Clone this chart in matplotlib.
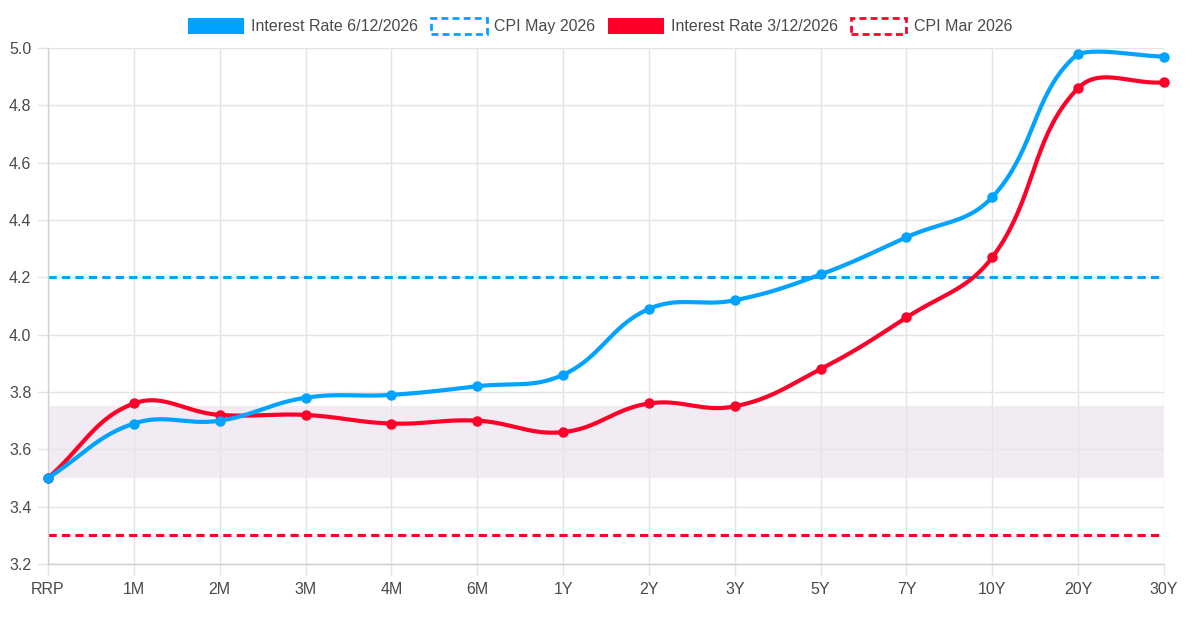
import numpy as np
import matplotlib
matplotlib.use("Agg")
import matplotlib.pyplot as plt
from matplotlib.patches import Patch

labels = ["RRP", "1M", "2M", "3M", "4M", "6M", "1Y", "2Y", "3Y", "5Y", "7Y", "10Y", "20Y", "30Y"]
rate_jun = [3.50, 3.69, 3.70, 3.78, 3.79, 3.82, 3.86, 4.09, 4.12, 4.21, 4.34, 4.48, 4.98, 4.97]
rate_mar = [3.50, 3.76, 3.72, 3.72, 3.69, 3.70, 3.66, 3.76, 3.75, 3.88, 4.06, 4.27, 4.86, 4.88]
cpi_may = 4.20
cpi_mar = 3.30
band_low, band_high = 3.50, 3.75
y_min, y_max = 3.2, 5.0
y_ticks = [3.2, 3.4, 3.6, 3.8, 4.0, 4.2, 4.4, 4.6, 4.8, 5.0]

BLUE = "#00a3ff"
RED = "#ff0029"
TEXT = "#4a4a4a"
GRID = "#e4e4e4"

plt.rcParams["font.family"] = ["Liberation Sans", "DejaVu Sans"]

W, H = 1200, 617
fig = plt.figure(figsize=(W / 100, H / 100), dpi=100)
ax = fig.add_axes([48 / W, 53 / H, (1164 - 48) / W, (564 - 48) / H])


def spline(xs, ys, sx, sy, lo, hi, tension=0.4, n=40):
    # Chart.js style bezier spline computed in pixel-like space, control points capped to area
    px = np.asarray(xs, float) * sx
    py = np.asarray(ys, float) * sy
    xmin, xmax = px.min(), px.max()
    ymin, ymax = lo * sy, hi * sy
    m = len(px)
    cps = []
    for i in range(m):
        prev = (px[max(i - 1, 0)], py[max(i - 1, 0)])
        cur = (px[i], py[i])
        nxt = (px[min(i + 1, m - 1)], py[min(i + 1, m - 1)])
        d01 = np.hypot(cur[0] - prev[0], cur[1] - prev[1])
        d12 = np.hypot(nxt[0] - cur[0], nxt[1] - cur[1])
        tot = d01 + d12
        s01 = d01 / tot if tot else 0
        s12 = d12 / tot if tot else 0
        fa = tension * s01
        fb = tension * s12
        cp_prev = [cur[0] - fa * (nxt[0] - prev[0]), cur[1] - fa * (nxt[1] - prev[1])]
        cp_next = [cur[0] + fb * (nxt[0] - prev[0]), cur[1] + fb * (nxt[1] - prev[1])]
        for cp in (cp_prev, cp_next):
            cp[0] = min(max(cp[0], xmin), xmax)
            cp[1] = min(max(cp[1], ymin), ymax)
        cps.append((cp_prev, cp_next))
    outx, outy = [px[0]], [py[0]]
    t = np.linspace(0, 1, n)[1:]
    for i in range(m - 1):
        p0 = np.array([px[i], py[i]])
        p1 = np.array(cps[i][1])
        p2 = np.array(cps[i + 1][0])
        p3 = np.array([px[i + 1], py[i + 1]])
        b = ((1 - t) ** 3)[:, None] * p0 + (3 * (1 - t) ** 2 * t)[:, None] * p1 \
            + (3 * (1 - t) * t ** 2)[:, None] * p2 + (t ** 3)[:, None] * p3
        outx.extend(b[:, 0])
        outy.extend(b[:, 1])
    return np.array(outx) / sx, np.array(outy) / sy


x = np.arange(len(labels))
sx = (1164 - 48) / (len(labels) - 1)
sy = (564 - 48) / (y_max - y_min)

ax.axhspan(band_low, band_high, color="#f3ebf3", zorder=0.5, lw=0)

ax.axhline(cpi_may, color=BLUE, lw=2.2, ls=(0, (2.7, 1.7)), zorder=2)
ax.axhline(cpi_mar, color=RED, lw=2.2, ls=(0, (2.7, 1.7)), zorder=2)

for vals, col, z in [(rate_mar, RED, 3), (rate_jun, BLUE, 4)]:
    cx, cy = spline(x, vals, sx, sy, y_min, y_max)
    ax.plot(cx, cy, color=col, lw=3.0, zorder=z, solid_capstyle="round", clip_on=False)
    ax.plot(x, vals, "o", color=col, ms=6.5, zorder=z + 0.1, clip_on=False)

ax.set_xlim(0, len(labels) - 1)
ax.set_ylim(y_min, y_max)
ax.set_xticks(x)
ax.set_xticklabels(labels)
ax.set_yticks(y_ticks)
ax.set_yticklabels([f"{v:.1f}" for v in y_ticks])
ax.grid(True, color=GRID, lw=1)
ax.set_axisbelow(True)
for s in ["top", "right"]:
    ax.spines[s].set_visible(False)
for s in ["left", "bottom"]:
    ax.spines[s].set_color("#d0d0d0")
    ax.spines[s].set_linewidth(1)
ax.tick_params(axis="both", colors=GRID, labelcolor=TEXT, labelsize=11.5, length=8, width=1)
ax.tick_params(axis="x", pad=5)
ax.tick_params(axis="y", pad=4)

handles = [
    Patch(facecolor=BLUE, edgecolor=BLUE, lw=0),
    Patch(facecolor="white", edgecolor=BLUE, lw=2.0, ls=(0, (2.5, 1.5))),
    Patch(facecolor=RED, edgecolor=RED, lw=0),
    Patch(facecolor="white", edgecolor=RED, lw=2.0, ls=(0, (2.5, 1.5))),
]
names = ["Interest Rate 6/12/2026", "CPI May 2026", "Interest Rate 3/12/2026", "CPI Mar 2026"]
leg = fig.legend(handles, names, loc="center", bbox_to_anchor=(0.5, 1 - 26 / H), ncol=4,
                 frameon=False, handlelength=3.5, handleheight=1.2, handletextpad=0.45,
                 columnspacing=0.8, prop={"size": 11.5})
for t in leg.get_texts():
    t.set_color(TEXT)

fig.savefig("out.png", dpi=100)
